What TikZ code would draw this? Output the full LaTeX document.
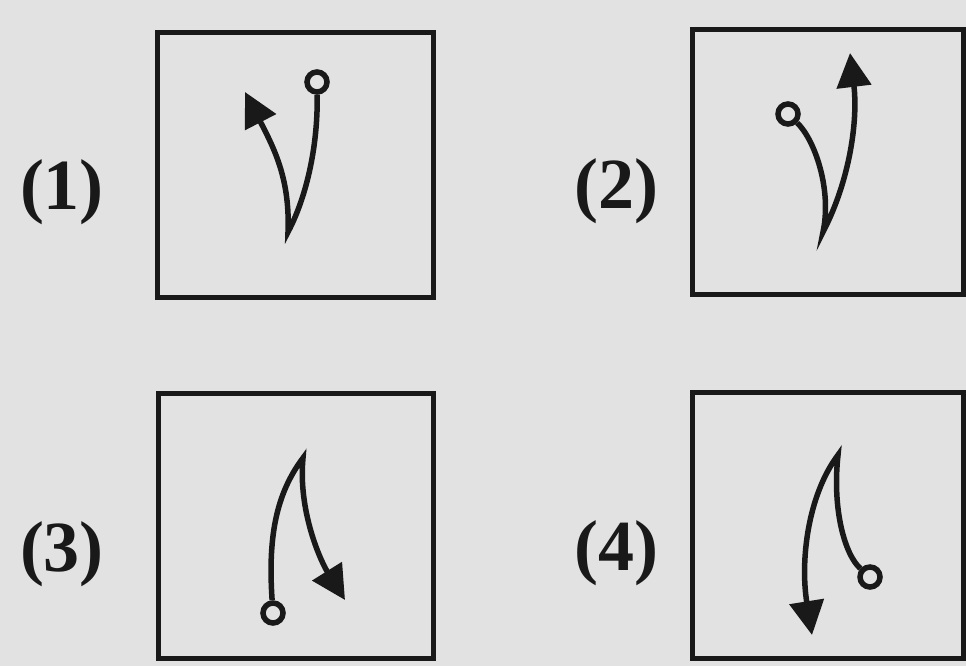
\documentclass[tikz,border=0pt]{standalone}
\usepackage{fontspec}
\setmainfont{Liberation Serif}
\usetikzlibrary{arrows.meta}
\definecolor{bg}{RGB}{226,226,226}
\definecolor{ink}{RGB}{25,25,25}
\tikzset{
  boxline/.style={draw=ink, line width=5pt},
  ring/.style={circle, draw=ink, line width=5.5pt, minimum size=20pt, inner sep=0pt, fill=bg},
  curve/.style={draw=ink, line width=5.5pt, line join=miter, miter limit=20,
    -{Triangle[length=34pt,width=34pt]}},
  lab/.style={font=\fontsize{72}{80}\selectfont\bfseries, text=ink, inner sep=0pt}
}
\begin{document}
\begin{tikzpicture}[x=1pt,y=-1pt]
\fill[bg] (0,0) rectangle (966,666);
\useasboundingbox (0,0) rectangle (966,666);
% boxes
\draw[boxline] (157,33) rectangle (433,297);
\draw[boxline] (692,30) rectangle (963,294);
\draw[boxline] (158,393) rectangle (433,658);
\draw[boxline] (692,392) rectangle (963,658);
% labels
\node[lab] (l1) at (62,192) {(1)};
\node[lab] (l2) at (616,191) {(2)};
\node[lab] (l3) at (62,554) {(3)};
\node[lab] (l4) at (616,553) {(4)};
% figure 1
\node[ring] (c1) at (317,82) {};
\coordinate (k1) at (288,232);
\coordinate (t1) at (245,92);
\draw[curve] (c1) .. controls (318,150) and (305,200) .. (k1)
  .. controls (290,180) and (275,150) .. (t1);
% figure 2
\node[ring] (c2) at (788,114) {};
\coordinate (k2) at (823,232);
\coordinate (t2) at (850,53);
\draw[curve] (c2) .. controls (815,140) and (832,190) .. (k2)
  .. controls (850,180) and (858,120) .. (t2);
% figure 3
\node[ring] (c3) at (273,613) {};
\coordinate (k3) at (303,458);
\coordinate (t3) at (345,600);
\draw[curve] (c3) .. controls (268,540) and (275,495) .. (k3)
  .. controls (298,510) and (320,560) .. (t3);
% figure 4
\node[ring] (c4) at (870,577) {};
\coordinate (k4) at (838,455);
\coordinate (t4) at (812,635);
\draw[curve] (c4) .. controls (845,555) and (832,510) .. (k4)
  .. controls (808,495) and (800,560) .. (t4);
\end{tikzpicture}
\end{document}
